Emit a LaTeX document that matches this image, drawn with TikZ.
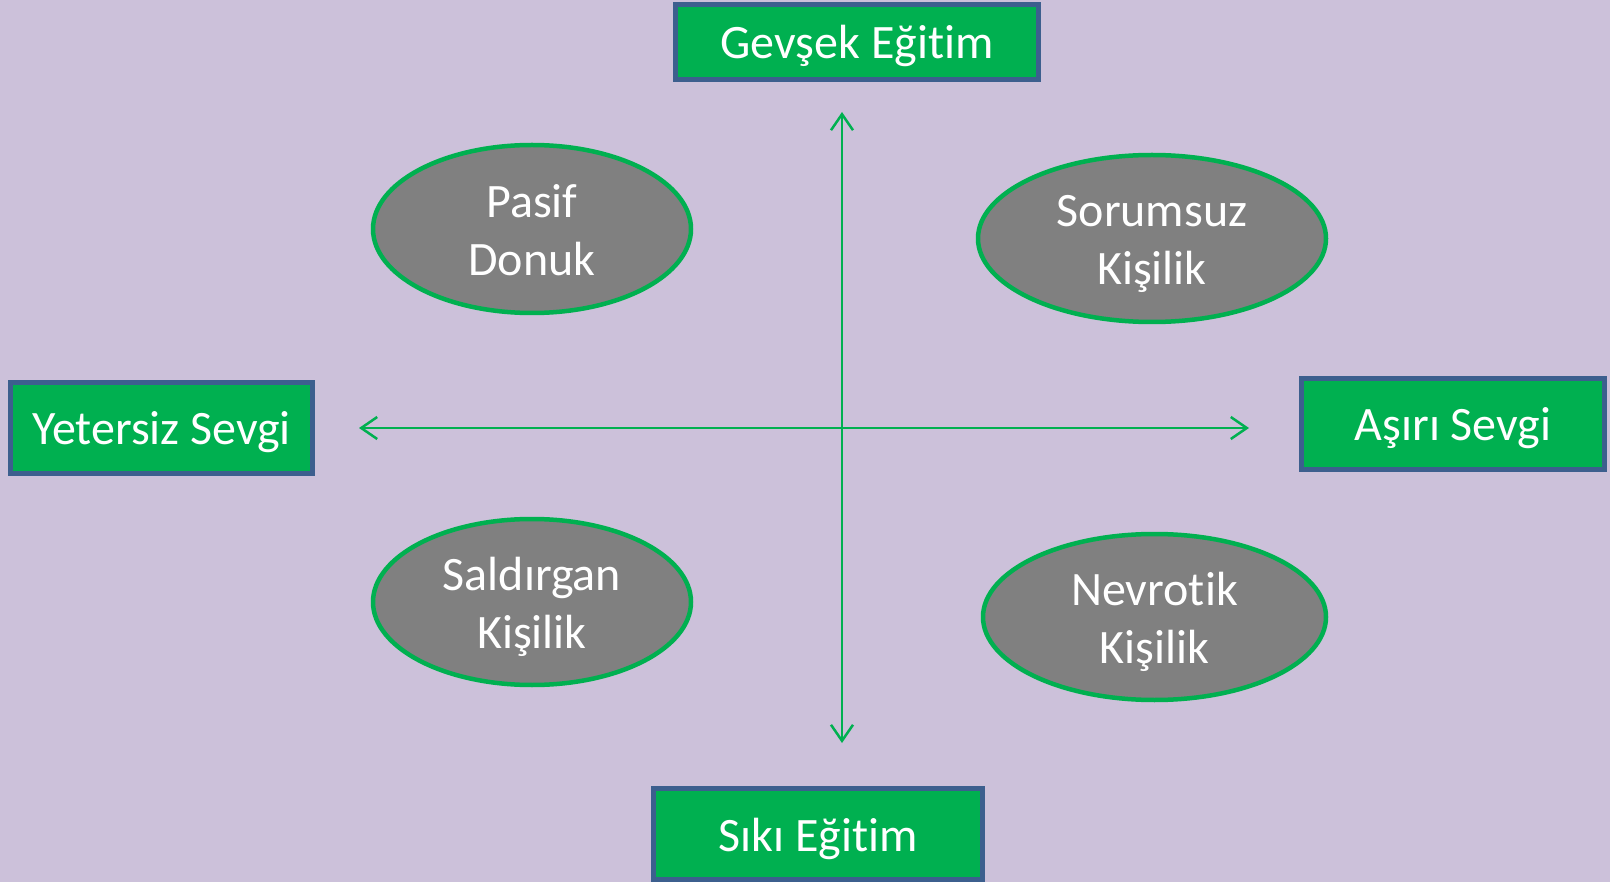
\documentclass[tikz,border=0pt]{standalone}
\usepackage{fontspec}
\setmainfont{Carlito}[Ligatures=NoCommon]
\usetikzlibrary{arrows.meta,shapes.geometric}
\definecolor{bgcol}{HTML}{CCC1DA}
\definecolor{boxfill}{HTML}{00B050}
\definecolor{boxedge}{HTML}{3C5F8E}
\definecolor{ellfill}{HTML}{808080}
\newcommand{\toptwo}{\rule{0pt}{47pt}}
\newcommand{\bottwo}{\rule[-12pt]{0pt}{12pt}}
\tikzset{
  labelbox/.style={draw=boxedge, fill=boxfill, line width=5pt, rectangle, inner sep=0pt,
    text=white, text height=34pt, text depth=0pt, font=\fontsize{48}{58}\selectfont},
  typeell/.style={draw=boxfill, fill=ellfill, line width=4.5pt, ellipse, inner sep=0pt,
    text=white, align=center, font=\fontsize{48}{58}\selectfont},
  axis/.style={draw=boxfill, line width=2.5pt, {Straight Barb[length=16pt,width=22pt]}-{Straight Barb[length=16pt,width=22pt]}}
}
\begin{document}
\begin{tikzpicture}[x=1pt,y=-1pt]
\useasboundingbox (0,0) rectangle (1610,882);
\fill[bgcol] (0,0) rectangle (1610,882);
% label boxes
\node[labelbox, minimum width=363pt, minimum height=75pt] (top) at (857,42) {Gevşek Eğitim};
\node[labelbox, minimum width=302pt, minimum height=91pt] (left) at (161.5,428) {Yetersiz Sevgi};
\node[labelbox, minimum width=303pt, minimum height=91pt] (right) at (1453,424) {Aşırı Sevgi};
\node[labelbox, minimum width=329pt, minimum height=91pt] (bottom) at (818,834) {Sıkı Eğitim};
% ellipses
\node[typeell, minimum width=318pt, minimum height=168pt] (pasif) at (532,229) {\toptwo Pasif\\Donuk\bottwo};
\node[typeell, minimum width=348pt, minimum height=167pt] (sorum) at (1152,238.5) {\toptwo Sorumsuz\\Kişilik\bottwo};
\node[typeell, minimum width=318pt, minimum height=166pt] (saldir) at (532,602) {\toptwo Saldırgan\\Kişilik\bottwo};
\node[typeell, minimum width=343pt, minimum height=166pt] (nevro) at (1154.5,617) {\toptwo Nevrotik\\Kişilik\bottwo};
% axes
\coordinate (vt) at (842,112);
\coordinate (vb) at (842,743);
\coordinate (hl) at (359,428);
\coordinate (hr) at (1249,428);
\draw[axis] (vt) -- (vb);
\draw[axis] (hl) -- (hr);
\end{tikzpicture}
\end{document}
